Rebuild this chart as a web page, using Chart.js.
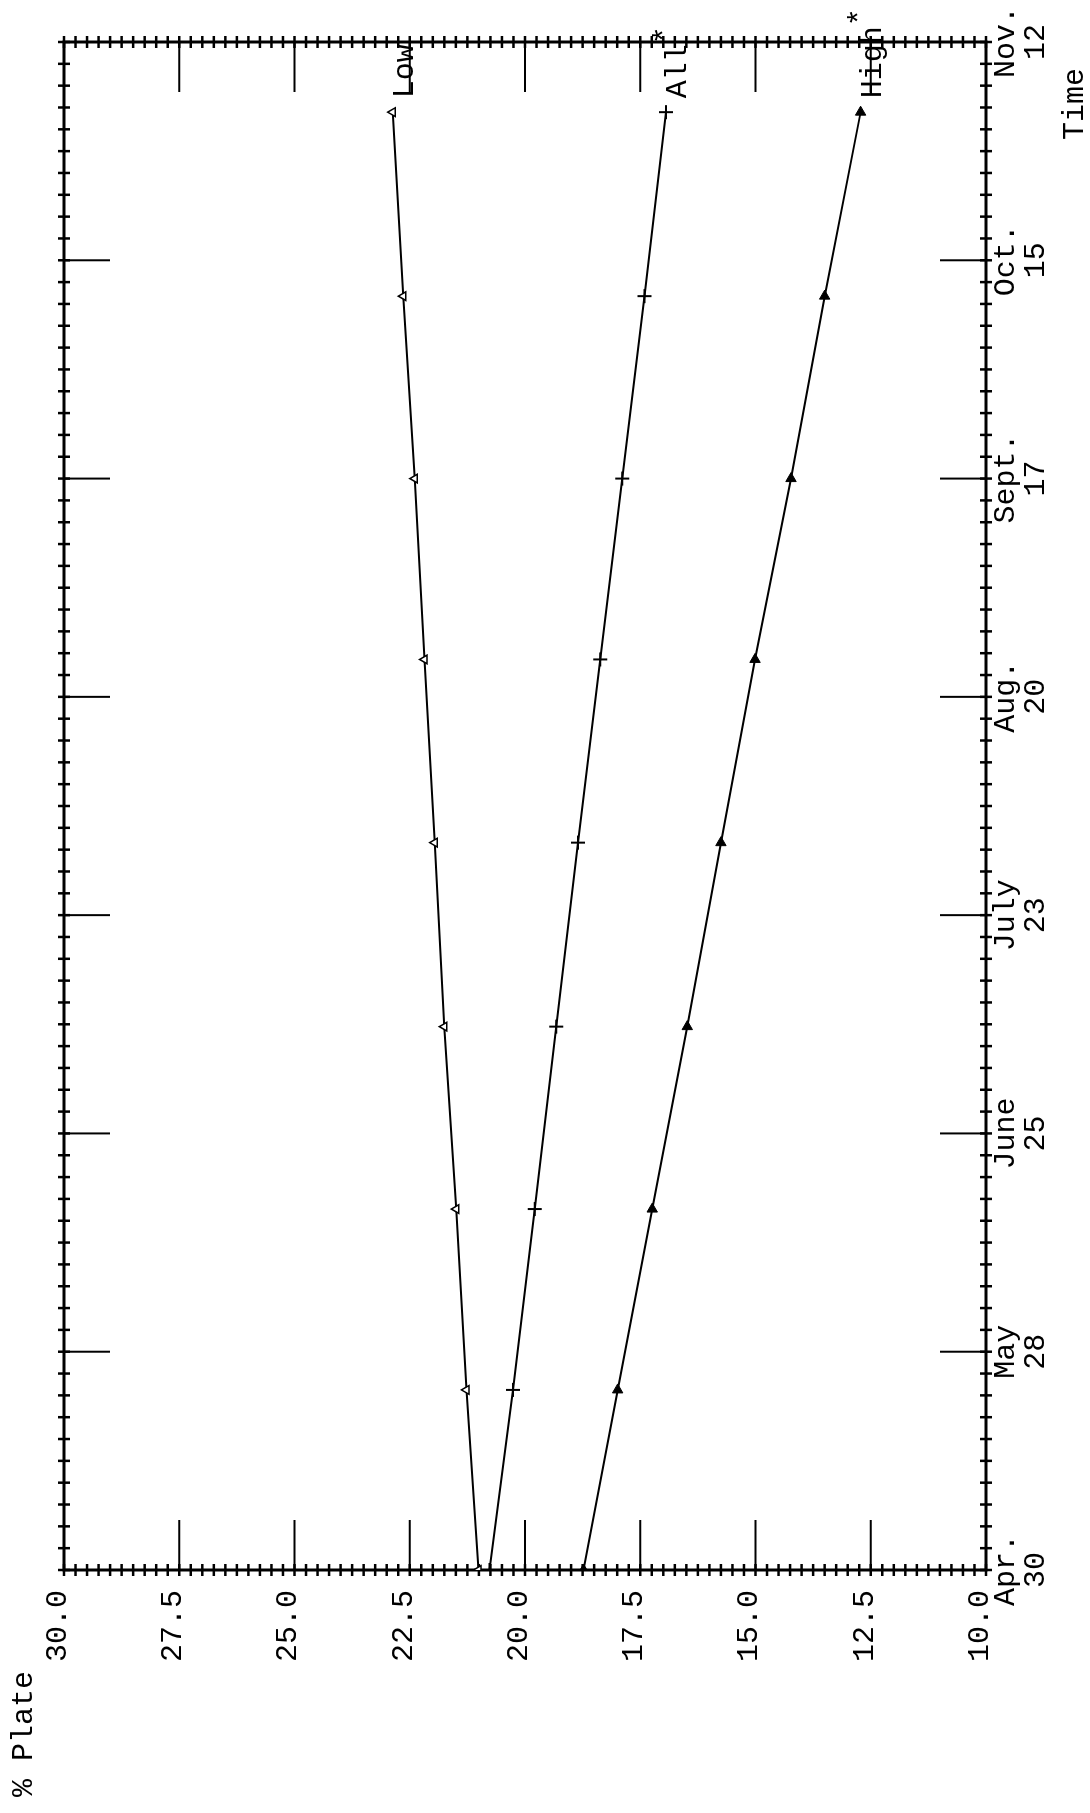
<!DOCTYPE html>
<html><head><meta charset="utf-8">
<script src="https://cdn.jsdelivr.net/npm/chart.js@4.4.1/dist/chart.umd.min.js"></script>
<style>
html,body{margin:0;padding:0;background:#fff;overflow:hidden;width:1090px;height:1813px;}
#wrap{position:absolute;left:0;top:0;width:1813px;height:1090px;transform-origin:0 0;transform:translateY(1813px) rotate(-90deg);background:#fff;}
canvas{display:block;}
</style></head><body>
<div id="wrap"><canvas id="c" width="1813" height="1090"></canvas></div>
<script>
// ---- data (days after Apr. 30, % plate) ----
const days = [0, 23.1, 46.3, 69.7, 93.3, 116.8, 140.0, 163.4, 187.0];
const lowValues = [21.01, 21.27, 21.49, 21.75, 21.96, 22.18, 22.39, 22.64, 22.87];
const allValues = [20.77, 20.26, 19.79, 19.32, 18.85, 18.37, 17.89, 17.41, 16.94];
const highValues = [18.73, 17.99, 17.24, 16.48, 15.75, 15.01, 14.23, 13.50, 12.72];
const seriesNames = ['Low', 'All', 'High'];
const seriesMarks = ['', '*', '*'];
const timeTickDays = [0, 28, 56, 84, 112, 140, 168, 196];
const timeTickLabels = [['Apr.','30'],['May','28'],['June','25'],['July','23'],['Aug.','20'],['Sept.','17'],['Oct.','15'],['Nov.','12']];
const plateTickValues = [10, 12.5, 15, 17.5, 20, 22.5, 25, 27.5, 30];
const plateTickLabels = ['10.0','12.5','15.0','17.5','20.0','22.5','25.0','27.5','30.0'];
const xTitle = 'Time';
const yTitle = '% Plate';
const minorTimeStep = 2.8;
const minorPlateStep = 0.25;

const FONT = "'Liberation Mono', 'Courier New', monospace";
Chart.defaults.font.family = FONT;
Chart.defaults.color = '#000';

const pts = vals => days.map((d, i) => ({x: d, y: vals[i]}));

const decor = {
  id: 'decor',
  beforeDatasetsDraw(chart) {
    const ctx = chart.ctx, ca = chart.chartArea, xs = chart.scales.x, ys = chart.scales.y;
    const line = (a, b, c, d) => { ctx.beginPath(); ctx.moveTo(a, b); ctx.lineTo(c, d); ctx.stroke(); };
    ctx.save();
    ctx.strokeStyle = '#000';
    // minor cross ticks
    ctx.lineWidth = 2.5;
    for (let d = 0; d <= 196 + 0.01; d += minorTimeStep) {
      const u = xs.getPixelForValue(d);
      line(u, ca.top - 6, u, ca.top + 6);
      line(u, ca.bottom - 6, u, ca.bottom + 6);
    }
    for (let p = 10; p <= 30 + 0.001; p += minorPlateStep) {
      const v = ys.getPixelForValue(p);
      line(ca.left - 6, v, ca.left + 6, v);
      line(ca.right - 6, v, ca.right + 6, v);
    }
    // major inward ticks
    ctx.lineWidth = 2;
    timeTickDays.forEach(d => {
      const u = xs.getPixelForValue(d);
      line(u, ca.top, u, ca.top + 46);
      line(u, ca.bottom, u, ca.bottom - 46);
    });
    plateTickValues.forEach(p => {
      const v = ys.getPixelForValue(p);
      line(ca.left, v, ca.left + 50, v);
      line(ca.right, v, ca.right - 50, v);
    });
    ctx.lineWidth = 3;
    ctx.strokeRect(ca.left, ca.top, ca.width, ca.height);
    ctx.restore();
  },
  afterDraw(chart) {
    const ctx = chart.ctx, xs = chart.scales.x, ys = chart.scales.y;
    ctx.save();
    ctx.fillStyle = '#000';
    ctx.font = "30px " + FONT;
    ctx.textAlign = 'left';
    ctx.textBaseline = 'alphabetic';
    const series = [lowValues, allValues, highValues];
    series.forEach((vals, i) => {
      const n = vals.length - 1;
      const u = xs.getPixelForValue(days[n]) + 14;
      const v = ys.getPixelForValue(vals[n]) + 20;
      ctx.fillText(seriesNames[i], u, v);
      if (seriesMarks[i]) {
        const w = ctx.measureText(seriesNames[i]).width;
        ctx.fillText(seriesMarks[i], u + w, v - 12);
      }
    });
    ctx.fillText(yTitle, 16, 32);
    ctx.fillText(xTitle, 1673, 1083);
    ctx.restore();
  }
};

new Chart(document.getElementById('c'), {
  type: 'line',
  data: {
    datasets: [
      { label: seriesNames[0], data: pts(lowValues), borderColor: '#000', borderWidth: 2,
        pointStyle: 'triangle', pointRadius: 5, pointBackgroundColor: '#fff', pointBorderColor: '#000', pointBorderWidth: 1.5 },
      { label: seriesNames[1], data: pts(allValues), borderColor: '#000', borderWidth: 2,
        pointStyle: 'cross', pointRadius: 7, pointBorderColor: '#000', pointBorderWidth: 2 },
      { label: seriesNames[2], data: pts(highValues), borderColor: '#000', borderWidth: 2,
        pointStyle: 'triangle', pointRotation: 90, pointRadius: 6, pointBackgroundColor: '#000', pointBorderColor: '#000', pointBorderWidth: 1 }
    ]
  },
  options: {
    responsive: false,
    animation: false,
    events: [],
    layout: { padding: { top: 64, right: 42, left: 0, bottom: 0 } },
    plugins: { legend: { display: false }, tooltip: { enabled: false } },
    elements: { line: { tension: 0, fill: false } },
    scales: {
      x: {
        type: 'linear', position: 'bottom', min: 0, max: 196,
        grid: { display: false, drawTicks: false }, border: { display: false },
        afterBuildTicks: s => { s.ticks = timeTickDays.map(v => ({ value: v })); },
        afterFit: s => { s.height = 104; },
        ticks: {
          autoSkip: false, maxRotation: 0, minRotation: 0, padding: 5,
          font: { size: 30, lineHeight: 1 }, color: '#000',
          callback: v => timeTickLabels[timeTickDays.indexOf(v)]
        }
      },
      y: {
        type: 'linear', position: 'left', min: 10, max: 30,
        grid: { display: false, drawTicks: false }, border: { display: false },
        afterBuildTicks: s => { s.ticks = plateTickValues.map(v => ({ value: v })); },
        afterFit: s => { s.width = 243; },
        ticks: {
          autoSkip: false, padding: 20, labelOffset: -6,
          font: { size: 30, lineHeight: 1 }, color: '#000',
          callback: v => plateTickLabels[plateTickValues.indexOf(v)]
        }
      }
    }
  },
  plugins: [decor]
});
</script>
</body></html>
